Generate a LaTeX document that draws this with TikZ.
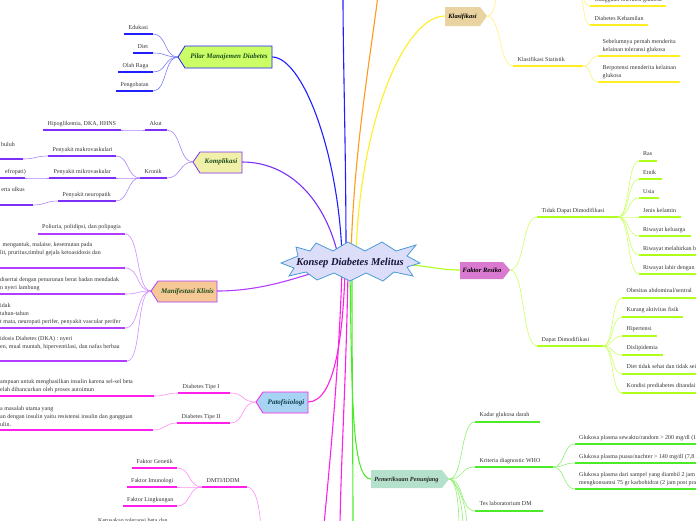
\documentclass[tikz,border=0pt]{standalone}
\usepackage{fontspec}
\setmainfont{Liberation Serif}
\definecolor{bl}{HTML}{1F1FFF}
\definecolor{blc}{HTML}{7A7AFF}
\definecolor{vi}{HTML}{7B2FF7}
\definecolor{vic}{HTML}{A983FF}
\definecolor{pu}{HTML}{B23CFF}
\definecolor{puc}{HTML}{CF8BFF}
\definecolor{mg}{HTML}{FF1FEA}
\definecolor{mgc}{HTML}{FF8CF5}
\definecolor{ye}{HTML}{FFEE22}
\definecolor{yec}{HTML}{FFF07A}
\definecolor{li}{HTML}{AEFF1A}
\definecolor{lic}{HTML}{CCFF66}
\definecolor{gr}{HTML}{4CEB2A}
\definecolor{grc}{HTML}{8FF070}
\definecolor{orng}{HTML}{FF9A1A}
\definecolor{starfill}{HTML}{DCDDF8}
\definecolor{starline}{HTML}{4A9AD8}
\definecolor{fpilar}{HTML}{CCFF66}
\definecolor{fkompl}{HTML}{F0F0A8}
\definecolor{fmani}{HTML}{F5C896}
\definecolor{fpato}{HTML}{A6D4F2}
\definecolor{fklas}{HTML}{E9D3A0}
\definecolor{ffak}{HTML}{D97AD0}
\definecolor{fpem}{HTML}{B5E0CC}
\definecolor{dgreen}{HTML}{1B4D1B}
\definecolor{dteal}{HTML}{0B3B4B}
\definecolor{navy}{HTML}{14143C}
\tikzset{
  lt/.style={font=\fontsize{6}{7}\selectfont, inner sep=0pt, text=black!80},
  ul/.style={line width=1.5pt, draw=#1},
  cn/.style={line width=0.6pt, draw=#1},
  mb/.style={line width=1.1pt, draw=#1},
  tagt/.style={font=\fontsize{7}{8}\selectfont\bfseries\itshape, inner sep=0pt},
}
% name, xL, xR, y, colour, text x, first baseline, lines
\newcommand\leaf[8]{%
  \draw[ul=#5] (#2,#4) coordinate (#1-l) -- (#3,#4) coordinate (#1-r);
  \foreach \lx [count=\i] in {#8} {\node[lt,anchor=base west] (#1-\i) at (#6,#7+8*\i-8) {\lx};}
}
\newcommand\conL[4]{\draw[cn=#1] (#2) .. controls +(-#4,0) and +(#4,0) .. (#3);}
\newcommand\conR[4]{\draw[cn=#1] (#2) .. controls +(#4,0) and +(-#4,0) .. (#3);}
\begin{document}
\begin{tikzpicture}[x=1pt,y=-1pt]
\useasboundingbox (0,0) rectangle (696,520);
\clip (0,0) rectangle (696,520);
% ---------- ports ----------
\coordinate (pilar-e) at (272,57);   \coordinate (pilar-tip) at (178,57);
\coordinate (kompl-e) at (242,162);  \coordinate (kompl-tip) at (193,162);
\coordinate (mani-e) at (217,291);   \coordinate (mani-tip) at (151,291);
\coordinate (pato-e) at (308,402);   \coordinate (pato-tip) at (256,402);
\coordinate (klas-w) at (445,16);    \coordinate (klas-tip) at (487,16);
\coordinate (fak-w) at (460,270);    \coordinate (fak-tip) at (510,270);
\coordinate (pem-w) at (371,479);    \coordinate (pem-tip) at (449,479);
\coordinate (h1) at (342,255); \coordinate (h2) at (346,255); \coordinate (h3) at (351,255);
\coordinate (h4) at (356,255); \coordinate (h5) at (338,255); \coordinate (h6) at (330,268);
\coordinate (h7) at (400,264); \coordinate (h8) at (345,272); \coordinate (h9) at (342,272);
\coordinate (h10) at (348,272); \coordinate (h11) at (352,272); \coordinate (h12) at (350,272);
\coordinate (up-blue) at (343,-5); \coordinate (up-orange) at (378,-5);
\coordinate (etio-a) at (324,525); \coordinate (etio-b) at (340,525); \coordinate (down-green) at (353,525);
% ---------- main branches ----------
\draw[mb=bl] (pilar-e) .. controls (302,57) and (338,150) .. (h1);
\draw[mb=bl] (h2) .. controls (346,150) and (343,60) .. (up-blue);
\draw[mb=orng] (h3) .. controls (354,150) and (370,60) .. (up-orange);
\draw[mb=ye] (klas-w) .. controls (405,16) and (360,120) .. (h4);
\draw[mb=vi] (kompl-e) .. controls (290,162) and (325,200) .. (h5);
\draw[mb=pu] (mani-e) .. controls (265,291) and (300,276) .. (h6);
\draw[mb=li] (h7) .. controls (430,266) and (440,270) .. (fak-w);
\draw[mb=mg] (pato-e) .. controls (336,402) and (343,330) .. (h8);
\draw[mb=mg] (h9) .. controls (338,380) and (330,460) .. (etio-a);
\draw[mb=mg] (h10) .. controls (346,380) and (341,460) .. (etio-b);
\draw[mb=gr] (h11) .. controls (352,380) and (353,460) .. (down-green);
\draw[mb=gr] (h12) .. controls (352,400) and (352,479) .. (pem-w);
% ---------- Pilar ----------
\leaf{edu}{124}{153}{34}{bl}{128.5}{29}{Edukasi}
\leaf{diet}{133}{153}{53}{bl}{137.5}{48}{Diet}
\leaf{olah}{118}{153}{72}{bl}{122.5}{67}{Olah Raga}
\leaf{obat}{116}{153}{91}{bl}{120.5}{86}{Pengobatan}
\foreach \n in {edu,diet,olah,obat} {\conL{blc}{pilar-tip}{\n-r}{14}}
% ---------- Komplikasi ----------
\leaf{akut}{145}{167}{130}{vi}{149.5}{125}{Akut}
\leaf{hipo}{43}{121}{130}{vi}{47.5}{125}{{Hipoglikemia, DKA, HHNS}}
\leaf{kronik}{140}{167}{178}{vi}{144.5}{173}{Kronik}
\leaf{makro}{48}{116}{156}{vi}{52.5}{151}{Penyakit makrovaskulari}
\leaf{mikro}{49}{116}{178}{vi}{53.5}{173}{Penyakit mikrovaskular}
\leaf{neuro}{58}{116}{201}{vi}{62.5}{196}{Penyakit neuropatik}
\draw[ul=vi] (-2,159) coordinate (pemb-l) -- (23,159) coordinate (pemb-r);
\node[lt,anchor=base east] (pemb) at (15,146) {buluh};
\draw[ul=vi] (-2,178) coordinate (nefr-l) -- (25,178) coordinate (nefr-r);
\node[lt,anchor=base east] (nefr) at (26,173) {efropati)};
\draw[ul=vi] (-2,205) coordinate (ulk-l) -- (33,205) coordinate (ulk-r);
\node[lt,anchor=base east] (ulk) at (25,191) {erta ulkus};
\conL{vic}{kompl-tip}{akut-r}{14}
\conL{vic}{kompl-tip}{kronik-r}{14}
\conL{vic}{akut-l}{hipo-r}{10}
\foreach \n in {makro,mikro,neuro} {\conL{vic}{kronik-l}{\n-r}{13}}
\conL{vic}{makro-l}{pemb-r}{13}
\conL{vic}{mikro-l}{nefr-r}{13}
\conL{vic}{neuro-l}{ulk-r}{13}
% ---------- Manifestasi Klinis ----------
\leaf{poli}{38}{125}{234}{pu}{42}{228}{{Poliuria, polidipsi, dan polipagia}}
\leaf{lemah}{-2}{125}{268}{pu}{0}{246}{{\hspace*{2.5pt}mengantuk, malaise, kesemutan pada},{lit, pruritus,timbul gejala ketoasidosis dan}}
\leaf{lapar}{-2}{125}{294}{pu}{0}{281}{{disertai dengan penurunan berat badan mendadak},{n nyeri lambung}}
\leaf{kron}{-2}{125}{328}{pu}{0}{307}{{idak},{tahun-tahun},{t mata, neuropati perifer, penyakit vascular perifer}}
\leaf{dka}{-2}{127}{361}{pu}{0}{340}{{idosis Diabetes (DKA) : nyeri},{en, mual muntah, hiperventilasi, dan nafas berbau}}
\foreach \n in {poli,lemah,lapar,kron,dka} {\conL{puc}{mani-tip}{\n-r}{15}}
% ---------- Patofisiologi ----------
\leaf{tipe1}{178}{230}{393}{mg}{182.5}{388}{Diabetes Tipe I}
\leaf{tipe2}{177}{230}{423}{mg}{181.5}{418}{Diabetes Tipe II}
\leaf{auto}{-2}{154}{396}{mg}{0}{383}{{ampuan untuk menghasilkan insulin karena sel-sel beta},{elah dihancurkan oleh proses autoimun}}
\leaf{resis}{-2}{153}{430}{mg}{0}{410}{{a masalah utama yang},{an dengan insulin yaitu resistensi insulin dan gangguan},{ulin.}}
\conL{mgc}{pato-tip}{tipe1-r}{15}
\conL{mgc}{pato-tip}{tipe2-r}{15}
\conL{mgc}{tipe1-l}{auto-r}{12}
\conL{mgc}{tipe2-l}{resis-r}{12}
% ---------- DMTI/IDDM ----------
\leaf{dmti}{202}{247}{487}{mg}{206.5}{482}{DMTI/IDDM}
\leaf{gen}{132}{177}{468}{mg}{136.5}{463}{Faktor Genetik}
\leaf{imu}{127}{177}{487}{mg}{131}{482}{Faktor Imunologi}
\leaf{ling}{123}{177}{506}{mg}{127}{501}{Faktor Lingkungan}
\foreach \n in {gen,imu,ling} {\conL{mgc}{dmti-l}{\n-r}{14}}
\coordinate (etio-c) at (261,530);
\draw[cn=mgc] (dmti-r) .. controls +(9,0) and +(-1,-22) .. (etio-c);
\node[lt,anchor=base west] (kerus) at (98,522) {Kerusakan toleransi beta dan};
% ---------- Klasifikasi ----------
\leaf{gang}{590}{666}{6}{ye}{594.5}{1.5}{Gangguan toleransi glukosa}
\leaf{hamil}{590}{648}{25}{ye}{594.5}{20}{Diabetes Kehamilan}
\leaf{stat}{513}{583}{66}{ye}{517.5}{61}{Klasifikasi Statistik}
\leaf{seb}{598}{680}{56}{ye}{602.5}{43.5}{{Sebelumnya pernah menderita},{kelainan toleransi glukosa}}
\leaf{ber}{598}{680}{82}{ye}{602.5}{69.5}{{Berpotensi menderita kelainan},{glukosa}}
\coordinate (klinis) at (503,-8);
\coordinate (klinis-r) at (577,-8);
\conR{yec}{klas-tip}{klinis}{10}
\conR{yec}{klas-tip}{stat-l}{14}
\conR{yec}{klinis-r}{gang-l}{8}
\conR{yec}{klinis-r}{hamil-l}{8}
\conR{yec}{stat-r}{seb-l}{9}
\conR{yec}{stat-r}{ber-l}{9}
% ---------- Faktor Resiko ----------
\leaf{tidak}{537}{618}{217}{li}{541.5}{212.5}{Tidak Dapat Dimodifikasi}
\leaf{dapat}{537}{603}{346}{li}{541.5}{341.5}{Dapat Dimodifikasi}
\leaf{ras}{639}{657}{161}{li}{643}{155.5}{Ras}
\leaf{etnik}{639}{662}{179}{li}{643}{174}{Etnik}
\leaf{usia}{639}{659}{198}{li}{643}{193}{Usia}
\leaf{jenis}{639}{681}{217}{li}{643}{212}{Jenis kelamin}
\leaf{kelg}{639}{691}{236}{li}{643}{231}{Riwayat keluarga}
\leaf{mel}{639}{700}{255}{li}{643}{250}{{Riwayat melahirkan bayi dengan BB > 4000 gram}}
\leaf{lahir}{639}{700}{274}{li}{643}{269}{{Riwayat lahir dengan berat badan rendah}}
\leaf{obes}{622}{700}{298}{li}{626.5}{292.5}{Obesitas abdominal/sentral}
\leaf{kurang}{622}{683}{317}{li}{626.5}{311.5}{Kurang aktivitas fisik}
\leaf{hiper}{622}{657}{336}{li}{626.5}{330.5}{Hipertensi}
\leaf{dislip}{622}{663}{355}{li}{626.5}{349.5}{Dislipidemia}
\leaf{dietx}{622}{700}{374}{li}{626.5}{368.5}{Diet tidak sehat dan tidak seimbang}
\leaf{predi}{622}{700}{393}{li}{626.5}{387.5}{Kondisi prediabetes ditandai dengan toleransi glukosa terganggu}
\conR{lic}{fak-tip}{tidak-l}{15}
\conR{lic}{fak-tip}{dapat-l}{15}
\foreach \n in {ras,etnik,usia,jenis,kelg,mel,lahir} {\conR{lic}{tidak-r}{\n-l}{12}}
\foreach \n in {obes,kurang,hiper,dislip,dietx,predi} {\conR{lic}{dapat-r}{\n-l}{11}}
% ---------- Pemeriksaan Penunjang ----------
\leaf{kadar}{475}{540}{422}{gr}{479.5}{416.5}{Kadar glukosa darah}
\leaf{krit}{475}{553}{467}{gr}{479.5}{462}{Kriteria diagnostic WHO}
\leaf{tes}{475}{543}{511}{gr}{479.5}{505.5}{Tes laboratorium DM}
\leaf{gsew}{575}{700}{444}{gr}{579}{439}{{Glukosa plasma sewaktu/random > 200 mg/dl (11,1 mmol/L)}}
\leaf{gpua}{575}{700}{463}{gr}{579}{458}{{Glukosa plasma puasa/nuchter > 140 mg/dl (7,8 mmol/L)}}
\leaf{gpp}{575}{700}{489}{gr}{579}{476}{{Glukosa plasma dari sampel yang diambil 2 jam kemudian sesudah},{mengkonsumsi 75 gr karbohidrat (2 jam post prandial)}}
\foreach \n in {kadar,krit,tes} {\conR{grc}{pem-tip}{\n-l}{15}}
\foreach \n in {gsew,gpua,gpp} {\conR{grc}{krit-r}{\n-l}{12}}
\coordinate (pem-d1) at (459,528); \coordinate (pem-d2) at (463,528); \coordinate (pem-d3) at (467,528);
\foreach \n in {pem-d1,pem-d2,pem-d3} {\draw[cn=grc] (pem-tip) .. controls +(7,0) and +(0,-25) .. (\n);}
% ---------- central star ----------
\filldraw[fill=starfill, draw=starline, line width=0.8pt]
  (281,263) -- (298,256) -- (296,247) -- (310,251) -- (316,243) -- (333,251) -- (348,242)
  -- (365,251) -- (382,242) -- (396,251) -- (416,245) -- (407,256) -- (420,263) -- (407,267)
  -- (413,276) -- (394,272) -- (383,281) -- (366,273) -- (350,281) -- (334,273) -- (317,280)
  -- (306,272) -- (289,276) -- (294,268) -- cycle;
\node[font=\fontsize{10.5}{12}\selectfont\bfseries\itshape, text=navy, inner sep=0pt] (center) at (350,262.5) {Konsep Diabetes Melitus};
% ---------- tags ----------
\filldraw[fill=fpilar, draw=bl, line width=0.8pt] (pilar-tip) -- (185,46) -- (272,46) -- (272,68) -- (185,68) -- cycle;
\node[tagt, text=dgreen] (pilar) at (229,57) {Pilar Manajemen Diabetes};
\filldraw[fill=fkompl, draw=vi, line width=0.8pt] (kompl-tip) -- (200,152) -- (242,152) -- (242,173) -- (200,173) -- cycle;
\node[tagt, text=dgreen] (kompl) at (221,162) {Komplikasi};
\filldraw[fill=fmani, draw=pu, line width=0.8pt] (mani-tip) -- (158,281) -- (217,281) -- (217,302) -- (158,302) -- cycle;
\node[tagt, text=dgreen] (mani) at (187.5,291.5) {Manifestasi Klinis};
\filldraw[fill=fpato, draw=mg, line width=0.8pt] (pato-tip) -- (263,392) -- (308,392) -- (308,413) -- (263,413) -- cycle;
\node[tagt, text=dteal] (pato) at (286,402.5) {Patofisiologi};
\fill[fklas] (klas-w) -- (445,7) -- (480,7) -- (klas-tip) -- (480,26) -- (445,26) -- cycle;
\node[tagt, font=\fontsize{6.4}{7}\selectfont\bfseries\itshape, text=black] (klas) at (462.5,16.5) {Klasifikasi};
\fill[ffak] (fak-w) -- (460,262) -- (503,262) -- (fak-tip) -- (503,279) -- (460,279) -- cycle;
\node[tagt, font=\fontsize{6.6}{7}\selectfont\bfseries\itshape, text=black] (fak) at (482,270.5) {Faktor Resiko};
\fill[fpem] (pem-w) -- (371,470) -- (442,470) -- (pem-tip) -- (442,488) -- (371,488) -- cycle;
\node[tagt, font=\fontsize{6.3}{7}\selectfont\bfseries\itshape, text=black!85] (pem) at (406.5,479.5) {Pemeriksaan Penunjang};
\end{tikzpicture}
\end{document}
